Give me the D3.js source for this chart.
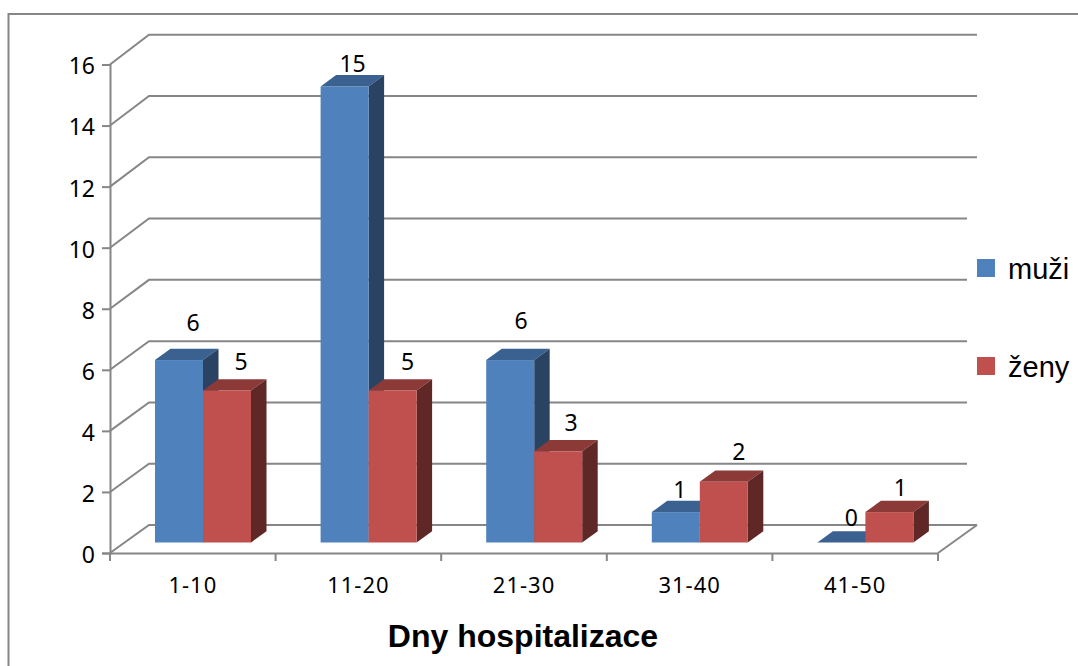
<!DOCTYPE html>
<html>
<head>
<meta charset="utf-8">
<script src="https://cdn.jsdelivr.net/npm/d3@7"></script>
<style>
  html, body { margin: 0; padding: 0; background: #fff; overflow: hidden; }
  svg { display: block; }
</style>
</head>
<body>
<div id="chart"></div>
<script>
// Chart values
const categories = ["1-10", "11-20", "21-30", "31-40", "41-50"];
const muzi = [6, 15, 6, 1, 0];
const zeny = [5, 5, 3, 2, 1];
const yTicks = [0, 2, 4, 6, 8, 10, 12, 14, 16];
const seriesNames = ["muži", "ženy"];

const width = 1078, height = 666;
const GREY = "#868686";
const LABEL_FONT = "'Noto Sans', sans-serif";
const HEAD_FONT = "'Liberation Sans', Arial, sans-serif";

const colors = [
  { front: "#4F81BD", top: "#3A6190", side: "#2A4362" },
  { front: "#C0504D", top: "#8C3A38", side: "#5F2725" }
];

const svg = d3.select("#chart").append("svg")
  .attr("width", width)
  .attr("height", height);

// Outer frame, only top and left are in view
svg.append("path")
  .attr("d", d3.line()([[8.5, height], [8.5, 14], [width, 14]]))
  .attr("fill", "none")
  .attr("stroke", GREY)
  .attr("stroke-width", 2);

// Scales: front plane of the box, back wall, and plane the bars stand in
const x = d3.scaleBand().domain(categories).range([110, 938]);
const yFront = d3.scaleLinear().domain([0, 16]).range([553, 64.5]);
const yBack = d3.scaleLinear().domain([0, 16]).range([525, 34.7]);
const yBar = d3.scaleLinear().domain([0, 16]).range([542.5, 56]);

const backX = 149;
const depthX = 15.5, depthY = 11.3;   // bar depth
const barW = 48, barShift = 10.2;

// Wall gridlines; the lower ones stop a bit short on the right
const longLines = new Set([0, 12, 14, 16]);
const grid = svg.append("g")
  .attr("fill", "none")
  .attr("stroke", GREY)
  .attr("stroke-width", 2);

grid.selectAll("path")
  .data(yTicks)
  .join("path")
  .attr("d", d => d3.line()([
    [110, yFront(d)],
    [backX, yBack(d)],
    [longLines.has(d) ? 977 : 967, yBack(d)]
  ]));

// Right edge of the floor
grid.append("path")
  .attr("d", d3.line()([[x.range()[1], yFront(0)], [977, yBack(0)]]));

// Y axis
const yAxis = svg.append("g")
  .attr("transform", "translate(110,0)")
  .call(d3.axisLeft(yFront).tickValues(yTicks).tickSize(8).tickPadding(7));
yAxis.selectAll("path, line").attr("stroke", GREY).attr("stroke-width", 2);
yAxis.selectAll("text")
  .style("font-family", LABEL_FONT)
  .style("font-size", "23px")
  .attr("fill", "#000")
  .attr("y", 2);

// X axis, ticks sit on the category boundaries
const xAxis = svg.append("g")
  .attr("transform", `translate(0,${yFront(0)})`)
  .call(d3.axisBottom(x).tickSize(0).tickPadding(24));
xAxis.select(".domain").attr("stroke", GREY).attr("stroke-width", 2);
xAxis.selectAll("text")
  .style("font-family", LABEL_FONT)
  .style("font-size", "22px")
  .style("letter-spacing", "1px")
  .attr("fill", "#000");

svg.append("g")
  .selectAll("line")
  .data(categories.map(c => x(c)).concat(x.range()[1]))
  .join("line")
  .attr("x1", d => d).attr("x2", d => d)
  .attr("y1", yFront(0)).attr("y2", yFront(0) + 8)
  .attr("stroke", GREY)
  .attr("stroke-width", 2);

// Bars
const bars = svg.append("g");

function drawBar(cat, value, s) {
  const x0 = x(cat) + x.bandwidth() / 2 + barShift + (s - 1) * barW;
  const x1 = x0 + barW;
  const yt = yBar(value), yb = yBar(0);
  const c = colors[s];

  bars.append("polygon")
    .attr("points", [[x0, yt], [x1, yt], [x1 + depthX, yt - depthY], [x0 + depthX, yt - depthY]].join(" "))
    .attr("fill", c.top);
  if (value > 0) {
    bars.append("polygon")
      .attr("points", [[x1, yt], [x1 + depthX, yt - depthY], [x1 + depthX, yb - depthY], [x1, yb]].join(" "))
      .attr("fill", c.side);
    bars.append("rect")
      .attr("x", x0).attr("y", yt)
      .attr("width", barW).attr("height", yb - yt)
      .attr("fill", c.front);
  }
}

categories.forEach((cat, i) => {
  drawBar(cat, muzi[i], 0);
  drawBar(cat, zeny[i], 1);
});

// Data labels, placement differs a little per bar in the original
const labelLift = [[29, 20], [14, 20], [31, 20], [14, 22], [17, 16]];
const labelNudge = [[0, 0], [-6, 1], [-3, -1], [-10, 1], [-4, -3]];
const labelGroup = svg.append("g")
  .attr("text-anchor", "middle")
  .style("font-family", LABEL_FONT)
  .style("font-size", "23px")
  .attr("fill", "#000");

categories.forEach((cat, i) => {
  [muzi[i], zeny[i]].forEach((v, s) => {
    labelGroup.append("text")
      .attr("x", x(cat) + x.bandwidth() / 2 + barShift + (s - 1) * barW + barW / 2 + 14 + labelNudge[i][s])
      .attr("y", yBar(v) - labelLift[i][s])
      .text(v);
  });
});

// Axis title
svg.append("text")
  .attr("x", 523)
  .attr("y", 647)
  .attr("text-anchor", "middle")
  .style("font-family", HEAD_FONT)
  .style("font-size", "32px")
  .style("font-weight", "bold")
  .attr("fill", "#000")
  .text("Dny hospitalizace");

// Legend
const legend = svg.append("g")
  .selectAll("g")
  .data(seriesNames)
  .join("g")
  .attr("transform", (d, i) => `translate(977,${259 + i * 98})`);

legend.append("rect")
  .attr("width", 18).attr("height", 18)
  .attr("fill", (d, i) => colors[i].front);

legend.append("text")
  .attr("x", 31).attr("y", 20)
  .style("font-family", HEAD_FONT)
  .style("font-size", "29px")
  .attr("fill", "#000")
  .text(d => d);
</script>
</body>
</html>
